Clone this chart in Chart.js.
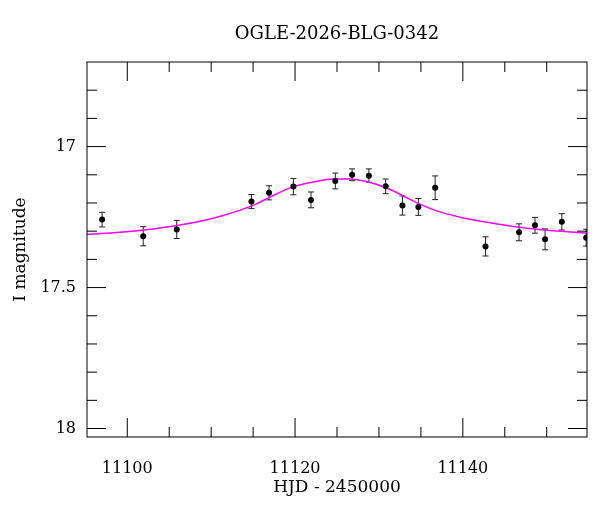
<!DOCTYPE html>
<html lang="en">
<head>
<meta charset="UTF-8">
<title>OGLE-2026-BLG-0342</title>
<script src="https://cdn.jsdelivr.net/npm/chart.js"></script>
<style>
  html, body { margin: 0; padding: 0; background: #ffffff; }
  #wrap { width: 600px; height: 512px; }
</style>
</head>
<body>
<div id="wrap"><canvas id="lightCurve" width="600" height="512"></canvas></div>
<script>
// photometry
const obsHjd = [11097.0, 11101.9, 11105.9, 11114.8, 11116.9, 11119.8, 11121.9, 11124.8, 11126.8, 11128.8,
                11130.8, 11132.8, 11134.7, 11136.7, 11142.7, 11146.7, 11148.6, 11149.8, 11151.8, 11154.7];
const obsMag = [17.259, 17.318, 17.294, 17.195, 17.164, 17.142, 17.189, 17.122, 17.100, 17.103,
                17.141, 17.209, 17.214, 17.146, 17.354, 17.304, 17.279, 17.329, 17.267, 17.323];
const obsErr = [0.026, 0.034, 0.032, 0.025, 0.025, 0.029, 0.028, 0.028, 0.021, 0.024,
                0.026, 0.034, 0.030, 0.042, 0.034, 0.030, 0.028, 0.037, 0.029, 0.030];

// model curve sampled from the plot
const modelHjd = [11095.2, 11099.2, 11103.1, 11107.1, 11111.1, 11115.4, 11117.0, 11119.75, 11122.5, 11124.5,
                  11126.5, 11128.5, 11130.9, 11134.8, 11137.0, 11140.5, 11144.5, 11148.5, 11152.5, 11154.9];
const modelMag = [17.311, 17.304, 17.292, 17.274, 17.247, 17.203, 17.179, 17.143, 17.124, 17.115,
                  17.115, 17.124, 17.147, 17.203, 17.229, 17.256, 17.276, 17.292, 17.302, 17.307];

const xMajorTicks = [11100, 11120, 11140];
const xMinorTicks = [11105, 11110, 11115, 11125, 11130, 11135, 11145, 11150];
const yMajorTicks = [17, 17.5, 18];
const yMinorTicks = [16.8, 16.9, 17.1, 17.2, 17.3, 17.4, 17.6, 17.7, 17.8, 17.9];

const serif = 'DejaVu Serif';

// error bars under the points
const errorBars = {
  id: 'errorBars',
  beforeDatasetsDraw(chart) {
    const { ctx, chartArea: a, scales: { x, y } } = chart;
    ctx.save();
    ctx.beginPath();
    ctx.rect(a.left, a.top, a.width, a.height);
    ctx.clip();
    ctx.strokeStyle = '#222';
    ctx.lineWidth = 1;
    obsHjd.forEach((t, i) => {
      const px = x.getPixelForValue(t);
      const top = y.getPixelForValue(obsMag[i] - obsErr[i]);
      const bot = y.getPixelForValue(obsMag[i] + obsErr[i]);
      ctx.beginPath();
      ctx.moveTo(px, top); ctx.lineTo(px, bot);
      ctx.moveTo(px - 3, top); ctx.lineTo(px + 3, top);
      ctx.moveTo(px - 3, bot); ctx.lineTo(px + 3, bot);
      ctx.stroke();
    });
    ctx.restore();
  }
};

// box with inward ticks on all four sides
const frame = {
  id: 'frame',
  afterDraw(chart) {
    const { ctx, chartArea: a, scales: { x, y } } = chart;
    ctx.save();
    ctx.strokeStyle = '#000';
    ctx.lineWidth = 1;
    ctx.strokeRect(a.left, a.top, a.width, a.height);
    ctx.beginPath();
    const xTick = (v, len) => {
      const px = x.getPixelForValue(v);
      ctx.moveTo(px, a.bottom); ctx.lineTo(px, a.bottom - len);
      ctx.moveTo(px, a.top); ctx.lineTo(px, a.top + len);
    };
    const yTick = (v, len) => {
      const py = y.getPixelForValue(v);
      ctx.moveTo(a.left, py); ctx.lineTo(a.left + len, py);
      ctx.moveTo(a.right, py); ctx.lineTo(a.right - len, py);
    };
    xMajorTicks.forEach(v => xTick(v, 19));
    xMinorTicks.forEach(v => xTick(v, 10));
    yMajorTicks.forEach(v => yTick(v, 19));
    yMinorTicks.forEach(v => yTick(v, 10));
    ctx.stroke();
    ctx.restore();
  }
};

new Chart(document.getElementById('lightCurve'), {
  type: 'line',
  data: {
    datasets: [
      {
        label: 'OGLE I',
        data: obsHjd.map((t, i) => ({ x: t, y: obsMag[i] })),
        showLine: false,
        pointRadius: 3,
        pointBackgroundColor: '#000',
        pointBorderWidth: 0,
        clip: 0
      },
      {
        label: 'model',
        data: modelHjd.map((t, i) => ({ x: t, y: modelMag[i] })),
        borderColor: '#ff00ff',
        borderWidth: 1.5,
        pointRadius: 0,
        cubicInterpolationMode: 'monotone',
        fill: false,
        clip: 0
      }
    ]
  },
  options: {
    responsive: false,
    animation: false,
    layout: { padding: { left: 0, right: 13, top: 0, bottom: 0 } },
    plugins: {
      legend: { display: false },
      tooltip: { enabled: false },
      title: {
        display: true,
        fullSize: false,
        text: 'OGLE-2026-BLG-0342',
        color: '#000',
        font: { family: serif, size: 18, weight: 'normal' },
        padding: { top: 24, bottom: 16.4 }
      }
    },
    scales: {
      x: {
        type: 'linear',
        min: 11095.2,
        max: 11154.8,
        grid: { display: false },
        border: { display: false },
        afterBuildTicks: s => { s.ticks = xMajorTicks.map(v => ({ value: v })); },
        afterFit: s => { s.height = 75; },
        ticks: {
          padding: 14,
          color: '#000',
          font: { family: serif, size: 16 },
          callback: v => String(v)
        },
        title: {
          display: true,
          text: 'HJD - 2450000',
          color: '#000',
          font: { family: serif, size: 17 },
          padding: { top: 0, bottom: 14 }
        }
      },
      y: {
        type: 'linear',
        reverse: true,
        min: 16.7,
        max: 18.03,
        grid: { display: false },
        border: { display: false },
        afterBuildTicks: s => { s.ticks = yMajorTicks.map(v => ({ value: v })); },
        afterFit: s => { s.width = 87; },
        ticks: {
          padding: 3,
          color: '#000',
          font: { family: serif, size: 16 },
          callback: v => String(v)
        },
        title: {
          display: true,
          text: 'I magnitude',
          color: '#000',
          font: { family: serif, size: 17 },
          padding: { top: 10, bottom: 0 }
        }
      }
    }
  },
  plugins: [errorBars, frame]
});
</script>
</body>
</html>
